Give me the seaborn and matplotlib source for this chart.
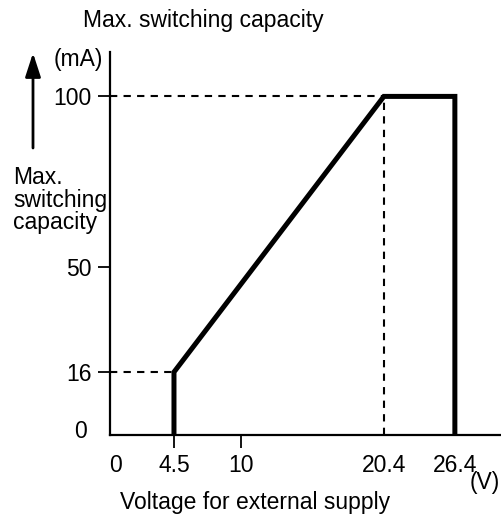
import numpy as np
import matplotlib
matplotlib.use("Agg")
import matplotlib.pyplot as plt
import matplotlib.transforms as mtransforms
import seaborn as sns

# Derating curve: max. switching capacity vs. external supply voltage
voltage = [4.5, 4.5, 20.4, 26.4, 26.4]
current = [0, 16, 100, 100, 0]

# Reference guide lines (dashed)
knee_low = (4.5, 16)
knee_high = (20.4, 100)

x_ticks = [0, 4.5, 10, 20.4, 26.4]
x_tick_labels = ["0", "4.5", "10", "20.4", "26.4"]
y_ticks = [0, 16, 50, 100]
y_tick_labels = ["0", "16", "50", "100"]

sns.set_theme(style="white")
plt.rcParams["font.family"] = ["Liberation Sans", "DejaVu Sans"]
plt.rcParams["text.color"] = "black"

FS = 16.5
W, H, DPI = 501, 519, 100
fig = plt.figure(figsize=(W / DPI, H / DPI), dpi=DPI)
ax = fig.add_axes([110 / W, (H - 435) / H, 1 - 110 / W, (435 - 52) / H])


def piecewise_scale(src, dst):
    src = np.asarray(src, float)
    dst = np.asarray(dst, float)
    s0 = (dst[1] - dst[0]) / (src[1] - src[0])
    s1 = (dst[-1] - dst[-2]) / (src[-1] - src[-2])
    big = 1e4
    xs = np.concatenate([[src[0] - big], src, [src[-1] + big]])
    ys = np.concatenate([[dst[0] - big * s0], dst, [dst[-1] + big * s1]])

    def fwd(v):
        return np.interp(v, xs, ys)

    def inv(v):
        return np.interp(v, ys, xs)

    return fwd, inv


# Graph-paper style axis spacing
ax.set_xscale("function", functions=piecewise_scale([0, 4.5, 10, 20.4, 26.4], [0, 64, 131, 274, 345]))
ax.set_yscale("function", functions=piecewise_scale([0, 16, 50, 100], [0, 63, 168, 339]))
ax.set_xlim(0, 30.3)
ax.set_ylim(0, 113)

# Dashed guides
dash = (0, (3.5, 3))
ax.plot([0, knee_low[0]], [knee_low[1], knee_low[1]], color="black", lw=1.5, ls=dash)
ax.plot([0, knee_high[0]], [knee_high[1], knee_high[1]], color="black", lw=1.5, ls=dash)
ax.plot([knee_high[0], knee_high[0]], [0, knee_high[1]], color="black", lw=1.5, ls=dash)

sns.lineplot(x=voltage, y=current, sort=False, estimator=None, color="black",
             lw=3.6, ax=ax, solid_joinstyle="miter")

for side in ("top", "right"):
    ax.spines[side].set_visible(False)
for side in ("left", "bottom"):
    ax.spines[side].set_color("black")
    ax.spines[side].set_linewidth(1.6)

ax.set_xticks(x_ticks, x_tick_labels)
ax.set_yticks(y_ticks, y_tick_labels)
ax.tick_params(axis="both", which="major", direction="out", length=9, width=1.3,
               color="black", labelsize=FS, labelcolor="black", bottom=True, left=True)
ax.tick_params(axis="x", pad=5)
ax.tick_params(axis="y", pad=4)

# Only 4.5 and 10 carry x tick marks; only 16, 50, 100 carry y tick marks
for i, t in enumerate(ax.xaxis.get_major_ticks()):
    if x_tick_labels[i] not in ("4.5", "10"):
        t.tick1line.set_markersize(0)
for i, t in enumerate(ax.yaxis.get_major_ticks()):
    if y_tick_labels[i] == "0":
        t.tick1line.set_markersize(0)

# Nudge the origin labels
xl0 = ax.get_xticklabels()[0]
xl0.set_transform(xl0.get_transform() + mtransforms.ScaledTranslation(5 / DPI, 0, fig.dpi_scale_trans))
yl0 = ax.get_yticklabels()[0]
yl0.set_transform(yl0.get_transform() + mtransforms.ScaledTranslation(-5 / DPI, 6 / DPI, fig.dpi_scale_trans))
ax.grid(False)

# Annotations
fig.text(203 / W, 1 - 20 / H, "Max. switching capacity", ha="center", va="center", fontsize=FS, color="black")
fig.text(78 / W, 1 - 60 / H, "(mA)", ha="center", va="center", fontsize=FS, color="black")
for txt, yc in (("Max.", 177), ("switching", 200), ("capacity", 223)):
    fig.text(13 / W, 1 - yc / H, txt, ha="left", va="center", fontsize=FS, color="black")
fig.text(485 / W, 1 - 482 / H, "(V)", ha="center", va="center", fontsize=FS, color="black")
fig.text(255 / W, 1 - 502 / H, "Voltage for external supply", ha="center", va="center",
         fontsize=FS, color="black")

ax.annotate("", xy=(33 / W, 1 - 53 / H), xytext=(33 / W, 1 - 148 / H),
            xycoords="figure fraction", textcoords="figure fraction",
            arrowprops=dict(arrowstyle="-|>,head_length=0.4,head_width=0.13", lw=2,
                            color="black", mutation_scale=36, shrinkA=0, shrinkB=0))

fig.savefig("out.png", dpi=DPI)
